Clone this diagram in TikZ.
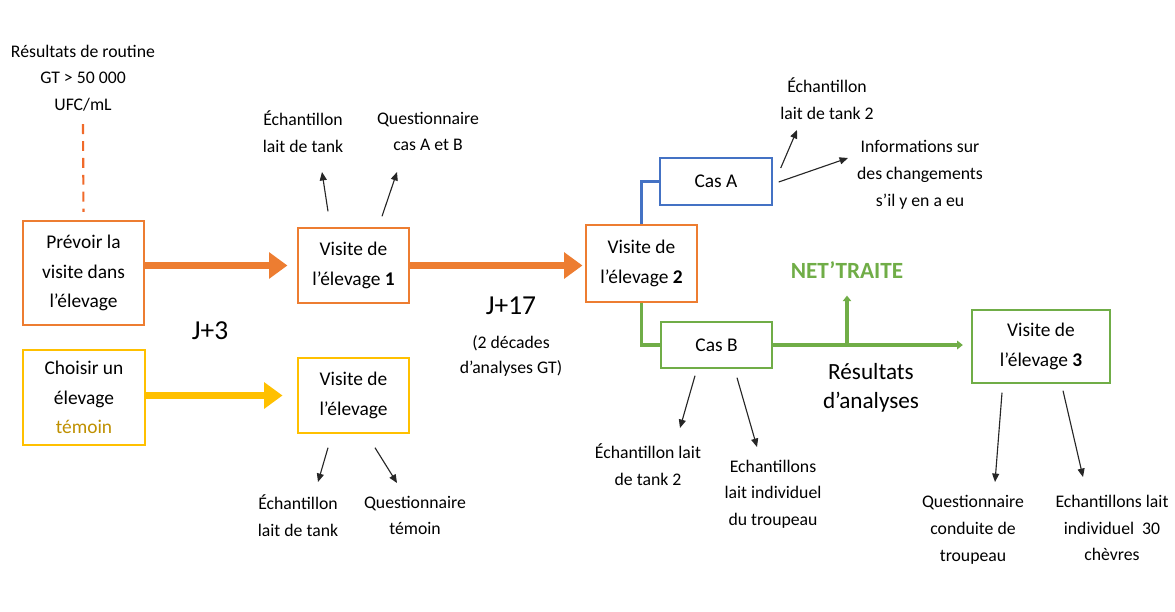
\documentclass[tikz,border=0pt]{standalone}
\usepackage{fontspec}
\setmainfont{Carlito}
\usetikzlibrary{arrows.meta}
\definecolor{orangeA}{HTML}{ED7D31}
\definecolor{jauneA}{HTML}{FFC000}
\definecolor{bleuA}{HTML}{4472C4}
\definecolor{vertA}{HTML}{70AD47}
\definecolor{orTemoin}{HTML}{BF9000}

\begin{document}
\begin{tikzpicture}[x=0.025cm,y=-0.025cm,
	boite/.style={draw,line width=1pt,fill=white,align=center,inner sep=2pt,font=\fontsize{13.8}{21}\selectfont},
	petit/.style={align=center,inner sep=0pt,font=\fontsize{12.6}{19}\selectfont},
	grand/.style={align=center,inner sep=0pt,font=\fontsize{16.5}{20.6}\selectfont},
	jour/.style={inner sep=0pt,font=\fontsize{19.5}{22}\selectfont},
	fleche/.style={-{Triangle[width=5pt,length=6pt]},line width=0.8pt,black!85},
	grossefleche/.style={-{Triangle[width=18pt,length=13pt]},line width=5.5pt},
	lien/.style={line width=2.2pt},
	]
	\useasboundingbox (0,0) rectangle (1175,611);
	% les boites
	\node[boite,draw=orangeA,minimum width=3.025cm,minimum height=2.6cm] (prevoir) at (83.5,273) {Prévoir la\\visite dans\\l’élevage};
	\node[boite,draw=jauneA,minimum width=3.05cm,minimum height=2.375cm] (choisir) at (84,397.5) {Choisir un\\élevage\\\textcolor{orTemoin}{témoin}};
	\node[boite,draw=orangeA,minimum width=2.775cm,minimum height=1.875cm] (visite1) at (353.5,265.5) {Visite de\\l’élevage \textbf{1}};
	\node[boite,draw=jauneA,minimum width=2.775cm,minimum height=1.875cm] (visiteT) at (353.5,395.5) {Visite de\\l’élevage};
	\node[boite,draw=orangeA,minimum width=2.775cm,minimum height=1.925cm] (visite2) at (641.5,263.5) {Visite de\\l’élevage \textbf{2}};
	\node[boite,draw=bleuA,minimum width=2.8cm,minimum height=1.175cm] (casA) at (716,181.5) {Cas A};
	\node[boite,draw=vertA,minimum width=2.775cm,minimum height=1.15cm] (casB) at (716.5,345) {Cas B};
	\node[boite,draw=vertA,minimum width=3.45cm,minimum height=1.825cm] (visite3) at (1041,346.5) {Visite de\\l’élevage \textbf{3}};
	% les textes
	\node[petit] (routine) at (83,78) {Résultats de routine\\GT > 50 000\\UFC/mL};
	\node[petit] (ech1) at (303,131.5) {Échantillon\\lait de tank};
	\node[petit] (quest1) at (428,131.5) {Questionnaire\\cas A et B};
	\node[petit] (echT) at (298,515.5) {Échantillon\\lait de tank};
	\node[petit] (questT) at (415,515.5) {Questionnaire\\témoin};
	\node[jour] (j3) at (210,331) {J+3};
	\node[jour] (j17) at (511,306) {J+17};
	\node[petit,font=\fontsize{12.6}{17.8}\selectfont] (decades) at (511,355.5) {(2 décades\\d’analyses GT)};
	\node[petit] (ech2A) at (827,98.5) {Échantillon\\lait de tank 2};
	\node[petit] (infos) at (920,175) {Informations sur\\des changements\\s’il y en a eu};
	\node[inner sep=0pt,text=vertA,font=\fontsize{16.5}{20}\selectfont\bfseries] (nettraite) at (847,270) {NET’TRAITE};
	\node[petit] (ech2B) at (648,464.5) {Échantillon lait\\de tank 2};
	\node[petit] (echIndiv) at (773,494) {Echantillons\\lait individuel\\du troupeau};
	\node[grand] (resultats) at (871,388) {Résultats\\d’analyses};
	\node[petit] (questConduite) at (973,530) {Questionnaire\\conduite de\\troupeau};
	\node[petit] (ech30) at (1112,528) {Echantillons lait\\individuel~ 30\\chèvres};
	% liaisons
	\draw[orangeA!85!red,line width=1.5pt,dash pattern=on 7pt off 5pt] ([yshift=-9pt]routine.south) -- ([yshift=6pt]prevoir.north);
	\draw[grossefleche,orangeA,shorten >=7pt] (prevoir.east |- visite1.west) -- (visite1.west);
	\draw[grossefleche,jauneA,shorten >=10.5pt] (choisir.east |- visiteT.west) -- (visiteT.west);
	\draw[grossefleche,orangeA,shorten >=2pt] (visite1.east) -- (visite2.west |- visite1.east);
	\draw[lien,bleuA] (visite2.north) |- (casA.west);
	\draw[lien,vertA] (visite2.south) |- (casB.west);
	\draw[lien,vertA,-{Triangle[width=6pt,length=4pt]},shorten >=6pt] (casB.east) -- (casB.east -| visite3.west);
	\draw[lien,vertA,-{Triangle[width=6pt,length=4pt]}] (casB.east -| nettraite) -- ([yshift=-12pt]nettraite.south);
	% fleches vers les prelevements
	\coordinate (d1) at ([shift={(-25.5,-16)}]visite1.north);  \coordinate (f1) at (322,172);
	\coordinate (d2) at ([shift={(28.5,-11)}]visite1.north);   \coordinate (f2) at (397,172);
	\coordinate (d3) at ([shift={(-25.5,14)}]visiteT.south);   \coordinate (f3) at (318,482);
	\coordinate (d4) at ([shift={(21.5,14)}]visiteT.south);    \coordinate (f4) at (397,483);
	\coordinate (d5) at ([shift={(8,-13.5)}]casA.east);        \coordinate (f5) at (797,130);
	\coordinate (d6) at ([shift={(6,0.5)}]casA.east);          \coordinate (f6) at (848,158);
	\coordinate (d7) at ([shift={(-21.5,7)}]casB.south);       \coordinate (f7) at (680,428);
	\coordinate (d8) at ([shift={(20.5,9)}]casB.south);        \coordinate (f8) at (757,447);
	\coordinate (d9) at ([shift={(-39,9)}]visite3.south);      \coordinate (f9) at (995,482);
	\coordinate (d10) at ([shift={(22,7)}]visite3.south);      \coordinate (f10) at (1083,477);
	\foreach \i in {1,...,10}
	\draw[fleche] (d\i) -- (f\i);
\end{tikzpicture}
\end{document}
